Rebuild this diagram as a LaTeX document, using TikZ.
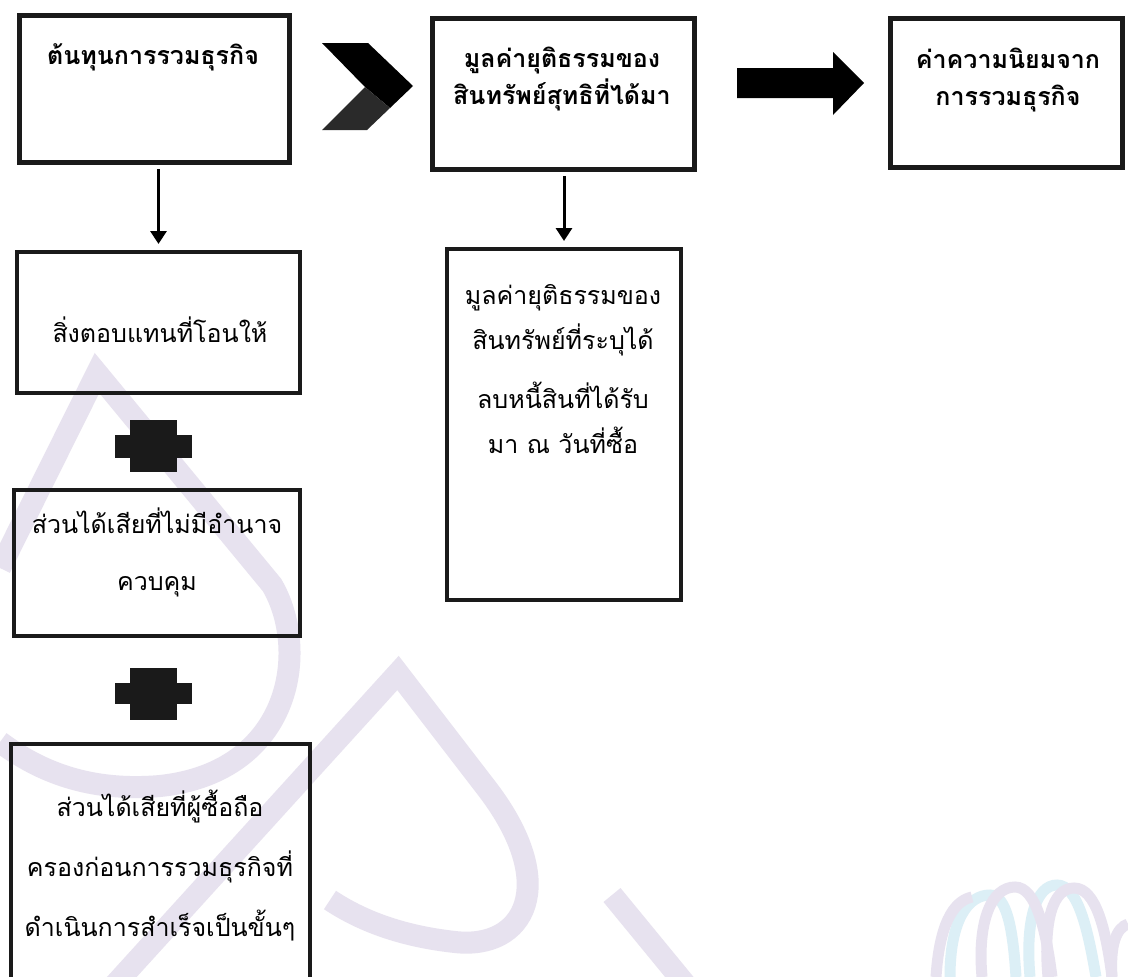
\documentclass[tikz,border=0pt]{standalone}
\usepackage{fontspec}
\newfontfamily\thai[Script=Thai]{Loma}
\usetikzlibrary{arrows.meta}
\definecolor{wmlav}{HTML}{E7E2EF}
\definecolor{wmcyan}{HTML}{DCEFF6}
\definecolor{ink}{HTML}{1A1A1A}
\definecolor{inkgray}{HTML}{2A2A2A}
\begin{document}
\begin{tikzpicture}[x=1pt,y=-1pt,
  boxthick/.style={draw=ink, line width=5pt, rectangle, inner sep=0pt},
  boxthin/.style={draw=ink, line width=4pt, rectangle, inner sep=0pt},
  titletxt/.style={font=\thai\bfseries\fontsize{25}{37}\selectfont, align=center, inner sep=0pt},
  bodytxt/.style={font=\thai\fontsize{25}{45}\selectfont, align=center, inner sep=0pt},
  conn/.style={draw=black, line width=3pt, -{Triangle[width=16pt,length=13pt]}, shorten <=4pt, shorten >=6pt},
  wm/.style={line width=22pt, line cap=butt},
  logo/.style={line width=11pt, line cap=butt}]
\useasboundingbox (0,0) rectangle (1128,977);
\clip (0,0) rectangle (1128,977);
\fill[white] (0,0) rectangle (1128,977);
% watermark
\draw[wm, wmlav] (0,568) -- (97,373) -- (272,585) .. controls (310,650) and (292,772) .. (160,786) .. controls (90,792) and (40,772) .. (0,742);
\draw[wm, wmlav] (110,990) -- (398,673) -- (488,790) .. controls (560,885) and (525,950) .. (455,942) .. controls (400,936) and (360,920) .. (330,900);
\draw[wm, wmlav] (612,895) -- (690,990);
\draw[logo, wmcyan] (950,977) .. controls (950,920) and (968,895) .. (990,895) .. controls (1007,895) and (1013,930) .. (1016,977);
\draw[logo, wmcyan] (1030,977) .. controls (1025,920) and (1036,885) .. (1057,885) .. controls (1078,885) and (1088,930) .. (1096,977);
\draw[logo, wmlav] (936,977) .. controls (940,915) and (958,900) .. (972,897);
\draw[logo, wmlav] (982,977) .. controls (977,920) and (992,887) .. (1015,887) .. controls (1036,887) and (1046,930) .. (1052,977);
\draw[logo, wmlav] (1048,977) .. controls (1043,920) and (1053,888) .. (1074,888) .. controls (1096,888) and (1106,930) .. (1112,977);
\draw[logo, wmlav] (1112,977) .. controls (1110,945) and (1116,928) .. (1128,924);

% top row boxes
\node[boxthick, minimum width=270pt, minimum height=147pt] (b1) at (154.5,89) {};
\node[titletxt] (t1) at (153,57) {ต้นทุนการรวมธุรกิจ};
\node[boxthick, minimum width=262pt, minimum height=151pt] (b2) at (563.5,94) {};
\node[titletxt] (t2) at (562,79) {มูลค่ายุติธรรมของ\\สินทรัพย์สุทธิที่ได้มา};
\node[boxthick, minimum width=232pt, minimum height=149pt] (b3) at (1006.5,93) {};
\node[titletxt] (t3) at (1008,80) {ค่าความนิยมจาก\\การรวมธุรกิจ};

% chevron
\fill[black] (322,43) -- (368,43) -- (413,86) -- (390,108) -- (365,87) -- cycle;
\fill[inkgray] (365,87) -- (390,108) -- (367,130) -- (322,130) -- cycle;
% block arrow
\fill[black] (737,68) -- (833,68) -- (833,52) -- (864,83) -- (833,115) -- (833,98) -- (737,98) -- cycle;

% left column
\node[boxthin, minimum width=283pt, minimum height=141pt] (b4) at (158.5,322.5) {};
\node[bodytxt] (t4) at (160,330) {สิ่งตอบแทนที่โอนให้};
\node[boxthin, minimum width=286pt, minimum height=146pt] (b5) at (157,563) {};
\node[bodytxt, font=\thai\fontsize{25}{57}\selectfont] (t5) at (157,552) {ส่วนได้เสียที่ไม่มีอำนาจ\\ควบคุม};
\node[boxthin, minimum width=299pt, minimum height=256pt] (b6) at (160.5,872) {};
\node[bodytxt, font=\thai\fontsize{25}{60}\selectfont] (t6) at (160,866) {ส่วนได้เสียที่ผู้ซื้อถือ\\ครองก่อนการรวมธุรกิจที่\\ดำเนินการสำเร็จเป็นขั้นๆ};

% plus signs
\fill[ink] (130,420) rectangle (177,472);
\fill[ink] (115,435) rectangle (192,458);
\fill[ink] (130,668) rectangle (177,720);
\fill[ink] (115,683) rectangle (192,704);

% middle column
\node[boxthin, minimum width=234pt, minimum height=351pt] (b7) at (564,424.5) {};
\node[bodytxt] (t7) at (563,369) {มูลค่ายุติธรรมของ\\สินทรัพย์ที่ระบุได้\\[14pt]ลบหนี้สินที่ได้รับ\\มา ณ วันที่ซื้อ};

% connectors
\draw[conn] (b1.south -| b4.north) -- (b4.north);
\draw[conn] (b2.south -| b7.north) -- (b7.north);
\end{tikzpicture}
\end{document}
